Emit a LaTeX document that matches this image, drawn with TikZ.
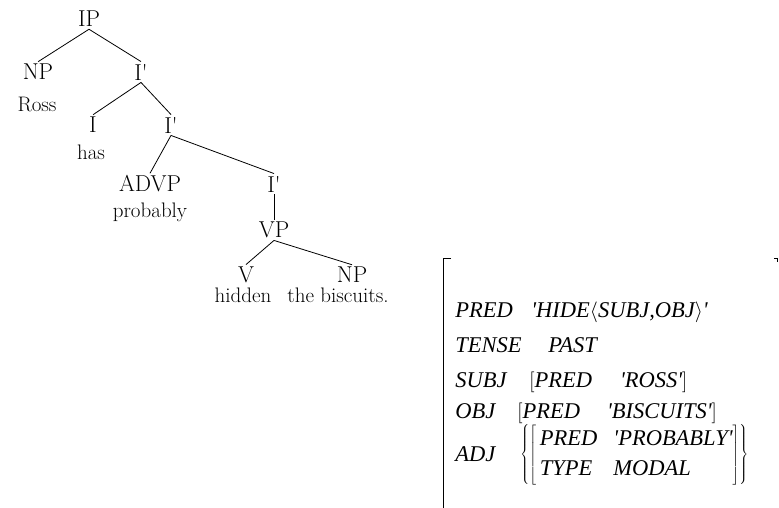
\documentclass[tikz,border=0pt]{standalone}
\usepackage{fontspec}
\newfontfamily\fsfont{Liberation Serif}
\usetikzlibrary{positioning}
\newcommand{\fsq}{\textquotesingle}
\newcommand{\fsgap}[1]{\hspace{#1}}
\begin{document}
\begin{tikzpicture}[x=1pt, y=-1pt, line width=0.8pt,
  cat/.style={font=\fontsize{23}{27}\selectfont, inner sep=2pt},
  word/.style={font=\fontsize{21}{25}\selectfont, inner sep=1pt},
  fs/.style={font=\fsfont\itshape\fontsize{22.5}{30}\selectfont, inner sep=0pt, anchor=base west}]
\useasboundingbox (0,0) rectangle (779,508);
% tree
\node[cat](ip) at (89,19) {IP};
\node[cat](np1) at (38,72) {NP};
\node[word](ross) at (37,104) {Ross};
\node[cat](ib1) at (141,72) {I\textquotesingle};
\node[cat](i) at (93,125) {I};
\node[word](has) at (91,152) {has};
\node[cat](ib2) at (171,125) {I\textquotesingle};
\node[cat](advp) at (150,184) {ADVP};
\node[word](probably) at (150,212) {probably};
\node[cat](ib3) at (274,184) {I\textquotesingle};
\node[cat](vp) at (274,230) {VP};
\node[cat](v) at (246,275) {V};
\node[word](hidden) at (243,295) {hidden};
\node[cat](np2) at (352,275) {NP};
\node[word](biscuits) at (338,295) {the biscuits.};
\draw (ip.south) -- (np1.north);
\draw (ip.south) -- (ib1.north);
\draw (ib1.south) -- (i.north);
\draw (ib1.south) -- (ib2.north);
\draw (ib2.south) -- (advp.north);
\draw (ib2.south) -- (ib3.north);
\draw (ib3.south) -- (vp.north);
\draw (vp.south) -- (v.north);
\draw (vp.south) -- (np2.north);
% f-structure
\draw (451,258) -- (443,258) -- (443,508);
\draw (774,258) -- (777,258) -- (777,262);
\node[fs](pred) at (455,317) {PRED};
\node[fs](predval) at (531,317) {\fsq HIDE$\langle$SUBJ,OBJ$\rangle$\fsq};
\node[fs](tense) at (455,352) {TENSE};
\node[fs](past) at (548,352) {PAST};
\node[fs](subj) at (455,387) {SUBJ};
\node[fs](subjval) at (529,387) {$\left[\mbox{PRED\fsgap{28pt}\fsq ROSS\fsq}\right]$};
\node[fs](obj) at (455,418) {OBJ};
\node[fs](objval) at (517,418) {$\left[\mbox{PRED\fsgap{27pt}\fsq BISCUITS\fsq}\right]$};
\node[fs](adj) at (455,461) {ADJ};
\node[fs](adjval) at (520,460) {$\left\{\left[\hspace{4pt}\begin{array}{@{}l@{\hspace{16pt}}l@{}}
  \mbox{PRED} & \mbox{\fsq PROBABLY\fsq}\\
  \mbox{TYPE} & \mbox{MODAL}
  \end{array}\right]\right\}$};
\end{tikzpicture}
\end{document}
